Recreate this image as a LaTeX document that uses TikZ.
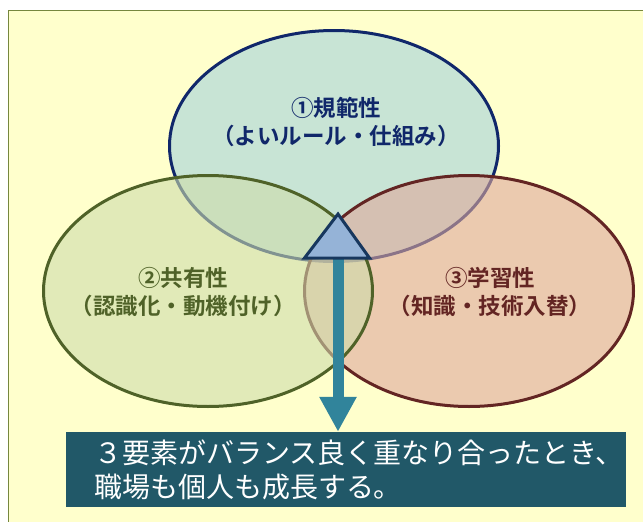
\documentclass[tikz,border=0pt]{standalone}
\usepackage{fontspec}
\newfontfamily\jp{Noto Sans CJK JP}
\newfontfamily\jpb{Noto Sans CJK JP Bold}
\usetikzlibrary{shapes.geometric,arrows.meta}
\definecolor{bgyel}{HTML}{FFFFCC}
\definecolor{bgline}{HTML}{76873E}
\definecolor{topfill}{HTML}{C8E4D5}
\definecolor{topline}{HTML}{10276A}
\definecolor{leftfill}{RGB}{205,220,171}
\definecolor{leftline}{HTML}{4F6228}
\definecolor{rightfill}{RGB}{222,168,156}
\definecolor{rightline}{HTML}{632523}
\definecolor{trifill}{HTML}{95B3D7}
\definecolor{triline}{HTML}{17375E}
\definecolor{arrowcol}{HTML}{31849B}
\definecolor{boxfill}{HTML}{215868}
\begin{document}
\begin{tikzpicture}[x=1pt,y=-1pt,
  venn/.style={ellipse, line width=3pt, minimum width=329pt, minimum height=231pt, inner sep=0pt},
  lbl/.style={align=center, font=\jpb\fontsize{22.5}{28}\selectfont},
  msg/.style={align=left, font=\jp\fontsize{28}{34}\selectfont, text=white, anchor=west, inner sep=0pt}]
\useasboundingbox (0,0) rectangle (643,522);
\fill[white] (0,0) rectangle (643,522);
\draw[fill=bgyel, draw=bgline, line width=1.2pt] (8.5,10.5) rectangle (660,540);
\node[venn, draw=topline, fill=topfill] (top) at (334,146) {};
\node[venn, draw=rightline, fill=rightfill, fill opacity=0.6, draw opacity=1] (right) at (469,291) {};
\node[venn, draw=leftline, fill=leftfill, fill opacity=0.6, draw opacity=1] (left) at (208,291) {};
\node[lbl, text=topline] (ltop) at (336,122) {①規範性\\（よいルール・仕組み）};
\node[lbl, text=leftline] (lleft) at (183,292) {②共有性\\（認識化・動機付け）};
\node[lbl, text=rightline] (lright) at (490,292) {③学習性\\（知識・技術入替）};
\node[rectangle, fill=boxfill, minimum width=560pt, minimum height=75pt, inner sep=0pt] (box) at (346,469.5) {};
\node[msg] (txt) at ([xshift=28pt]box.west) {３要素がバランス良く重なり合ったとき、\\職場も個人も成長する。};
\coordinate (tri) at (338,257);
\draw[line width=11pt, draw=arrowcol, -{Triangle[length=35pt,width=35pt]}] (tri) -- (tri |- box.north);
\draw[fill=trifill, draw=triline, line width=3pt, line join=miter] (338,214) -- (369.5,258) -- (304.5,258) -- cycle;
\end{tikzpicture}
\end{document}
